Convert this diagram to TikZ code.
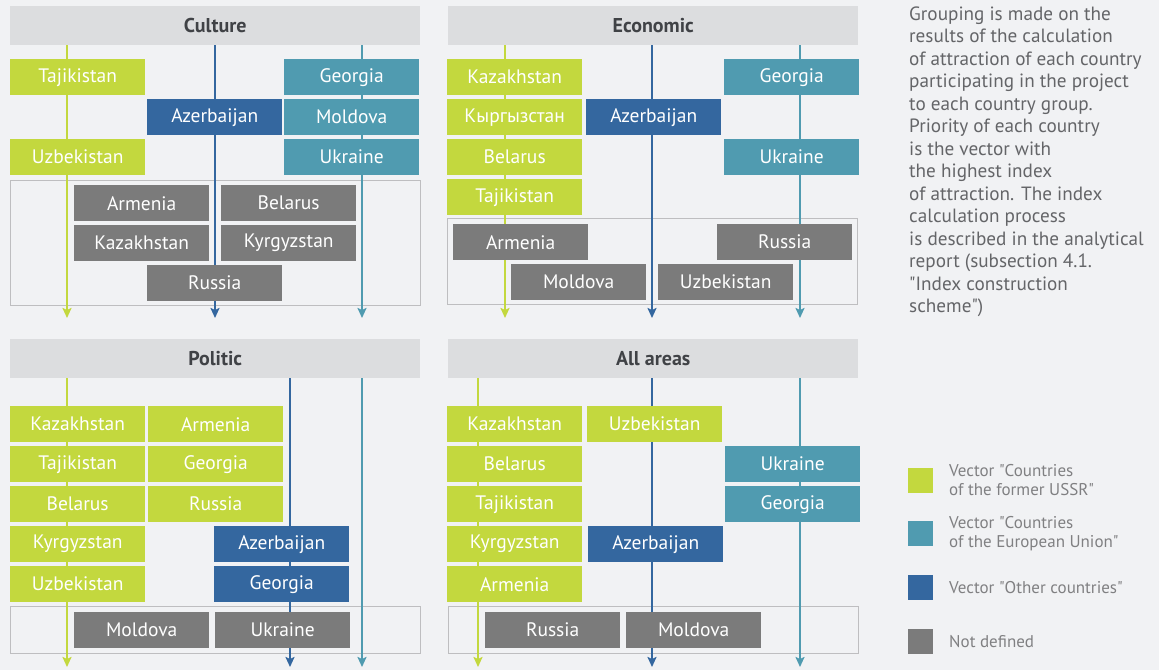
\documentclass[tikz,border=0pt]{standalone}
\usepackage{fontspec}
\setmainfont{PT Sans}
\usetikzlibrary{arrows.meta}
\definecolor{bgc}{RGB}{241,242,244}
\definecolor{headc}{RGB}{220,221,223}
\definecolor{headtxt}{RGB}{64,66,70}
\definecolor{ussr}{RGB}{195,216,62}
\definecolor{eu}{RGB}{80,155,176}
\definecolor{other}{RGB}{52,103,159}
\definecolor{undef}{RGB}{123,123,123}
\definecolor{framec}{RGB}{190,190,192}
\definecolor{notec}{RGB}{100,101,104}
\definecolor{legc}{RGB}{128,128,130}
\newcommand{\dq}{\textquotedbl}
\tikzset{
  head/.style={fill=headc, text=headtxt, font=\fontsize{20}{22}\selectfont\bfseries,
    minimum width=410pt, minimum height=39pt, inner sep=0pt, anchor=north west},
  cbox/.style={text=white, font=\fontsize{19.5}{22}\selectfont,
    minimum width=135pt, minimum height=36pt, inner sep=0pt, anchor=north west},
  ussrbox/.style={cbox, fill=ussr},
  eubox/.style={cbox, fill=eu},
  otherbox/.style={cbox, fill=other},
  undefbox/.style={cbox, fill=undef},
  undefframe/.style={draw=framec, line width=1pt, minimum width=410pt, inner sep=0pt, anchor=north west},
  vec/.style={line width=2.5pt, -{Stealth[length=10pt,width=9pt,inset=2pt]}},
  legsq/.style={minimum size=25pt, inner sep=0pt, anchor=north west},
  legtxt/.style={text=legc, font=\fontsize{17}{19}\selectfont, align=left, anchor=west, inner sep=0pt}
}
\begin{document}
\begin{tikzpicture}[x=1pt,y=-1pt]
  \fill[bgc] (0,0) rectangle (1159,670);
  \useasboundingbox (0,0) rectangle (1159,670);

  % Culture
  \node[head] (cult) at (10,6) {Culture};
  \node[undefframe, minimum height=125pt] (cult-nd) at (10,180) {};
  \foreach \v/\c/\x in {u/ussr/67, o/other/215, e/eu/362}{
    \coordinate (cult-\v) at (\x,318);
    \draw[vec, \c] (cult.south -| cult-\v) -- (cult-\v);
  }
  \node[ussrbox] (cult-taj) at (10,59) {Tajikistan};
  \node[ussrbox] (cult-uzb) at (10,139) {Uzbekistan};
  \node[otherbox] (cult-aze) at (147,99) {Azerbaijan};
  \node[eubox] (cult-geo) at (284,59) {Georgia};
  \node[eubox] (cult-mol) at (284,99) {Moldova};
  \node[eubox] (cult-ukr) at (284,139) {Ukraine};
  \node[undefbox] (cult-arm) at (74,185) {Armenia};
  \node[undefbox] (cult-bel) at (221,185) {Belarus};
  \node[undefbox] (cult-kaz) at (74,225) {Kazakhstan};
  \node[undefbox] (cult-kyr) at (221,225) {Kyrgyzstan};
  \node[undefbox] (cult-rus) at (147,265) {Russia};

  % Economic
  \node[head] (econ) at (448,6) {Economic};
  \node[undefframe, minimum height=86pt] (econ-nd) at (447,218) {};
  \foreach \v/\c/\x in {u/ussr/505, o/other/652, e/eu/800}{
    \coordinate (econ-\v) at (\x,318);
    \draw[vec, \c] (econ.south -| econ-\v) -- (econ-\v);
  }
  \foreach \n [count=\i] in {Kazakhstan,Кыргызстан,Belarus,Tajikistan}
    \node[ussrbox] (econ-u\i) at (447,{19+40*\i}) {\n};
  \node[otherbox] (econ-aze) at (586,99) {Azerbaijan};
  \node[eubox] (econ-geo) at (724,59) {Georgia};
  \node[eubox] (econ-ukr) at (724,139) {Ukraine};
  \node[undefbox] (econ-arm) at (453,224) {Armenia};
  \node[undefbox] (econ-rus) at (717,224) {Russia};
  \node[undefbox] (econ-mol) at (511,264) {Moldova};
  \node[undefbox] (econ-uzb) at (658,264) {Uzbekistan};

  % Politic
  \node[head] (pol) at (10,339) {Politic};
  \node[undefframe, minimum height=47pt] (pol-nd) at (10,606) {};
  \foreach \v/\c/\x in {u/ussr/67, o/other/290, e/eu/362}{
    \coordinate (pol-\v) at (\x,667);
    \draw[vec, \c] (pol.south -| pol-\v) -- (pol-\v);
  }
  \foreach \n [count=\i] in {Kazakhstan,Tajikistan,Belarus,Kyrgyzstan,Uzbekistan}
    \node[ussrbox] (pol-u\i) at (10,{366+40*\i}) {\n};
  \foreach \n [count=\i] in {Armenia,Georgia,Russia}
    \node[ussrbox] (pol-w\i) at (148,{366+40*\i}) {\n};
  \node[otherbox] (pol-aze) at (214,526) {Azerbaijan};
  \node[otherbox] (pol-geo) at (214,566) {Georgia};
  \node[undefbox] (pol-mol) at (74,612) {Moldova};
  \node[undefbox] (pol-ukr) at (215,612) {Ukraine};

  % All areas
  \node[head] (all) at (448,339) {All areas};
  \node[undefframe, minimum height=47pt] (all-nd) at (448,606) {};
  \foreach \v/\c/\x in {u/ussr/478, o/other/652, e/eu/800}{
    \coordinate (all-\v) at (\x,667);
    \draw[vec, \c] (all.south -| all-\v) -- (all-\v);
  }
  \foreach \n [count=\i] in {Kazakhstan,Belarus,Tajikistan,Kyrgyzstan,Armenia}
    \node[ussrbox] (all-u\i) at (447,{366+40*\i}) {\n};
  \node[ussrbox] (all-uzb) at (587,406) {Uzbekistan};
  \node[eubox] (all-ukr) at (725,446) {Ukraine};
  \node[eubox] (all-geo) at (725,486) {Georgia};
  \node[otherbox] (all-aze) at (588,526) {Azerbaijan};
  \node[undefbox] (all-rus) at (485,612) {Russia};
  \node[undefbox] (all-mol) at (626,612) {Moldova};

  % note
  \node[text=notec, font=\fontsize{19.2}{22.5}\selectfont, align=left, anchor=north west, inner sep=0pt]
    (note) at (909,6.5) {Grouping is made on the\\results of the calculation\\of attraction of each country\\participating in the project\\to each country group.\\Priority of each country\\is the vector with\\the highest index\\of attraction. The index\\calculation process\\is described in the analytical\\report (subsection 4.1.\\\dq Index construction\\scheme\dq)};

  % legend
  \node[legsq, fill=ussr] (leg-u) at (908,468) {};
  \node[legsq, fill=eu] (leg-e) at (908,521) {};
  \node[legsq, fill=other] (leg-o) at (908,575) {};
  \node[legsq, fill=undef] (leg-n) at (908,629) {};
  \node[legtxt] (leg-ut) at (949,480.5) {Vector \dq Countries\\of the former USSR\dq};
  \node[legtxt] (leg-et) at (949,533.5) {Vector \dq Countries\\of the European Union\dq};
  \node[legtxt] (leg-ot) at (949,587.5) {Vector \dq Other countries\dq};
  \node[legtxt] (leg-nt) at (949,641.5) {Not defined};
\end{tikzpicture}
\end{document}
